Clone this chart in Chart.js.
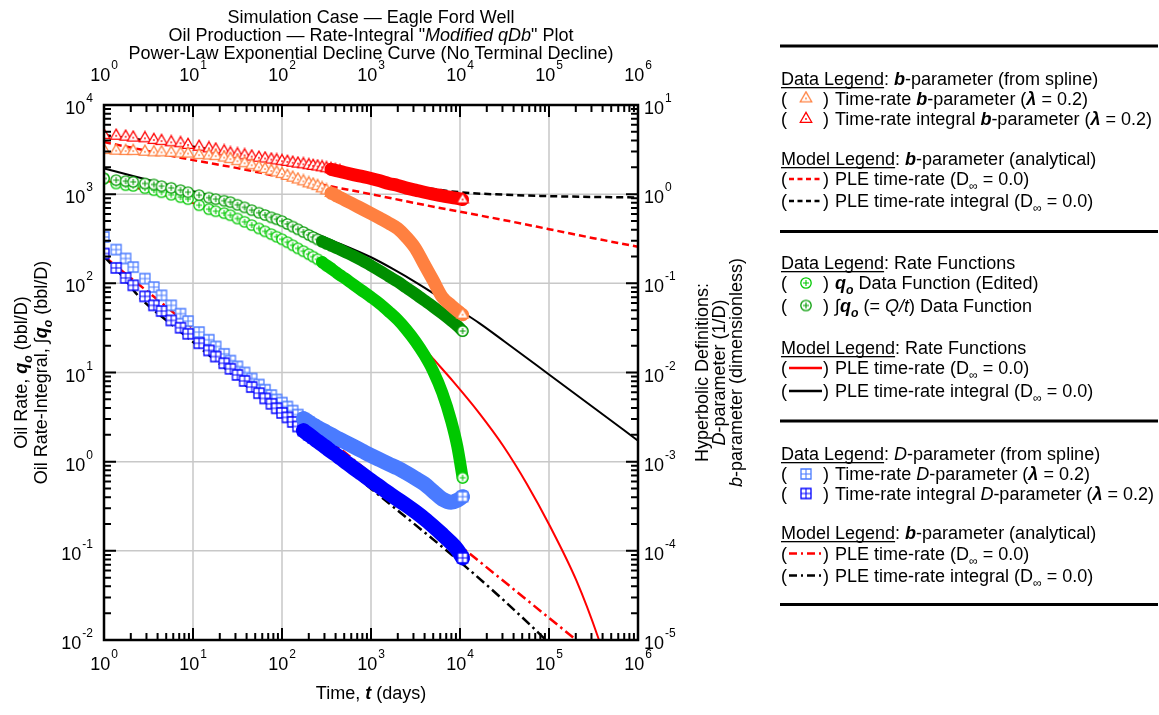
<!DOCTYPE html>
<html>
<head>
<meta charset="utf-8">
<script src="https://cdn.jsdelivr.net/npm/chart.js@4.4.0/dist/chart.umd.min.js"></script>
<style>
  html, body { margin: 0; padding: 0; background: #fff; }
  #wrap { width: 1159px; height: 715px; position: relative; }
</style>
</head>
<body>
<div id="wrap"><canvas id="c" width="1159" height="715"></canvas></div>
<script>
const FONT = '"Liberation Sans", Arial, Helvetica, sans-serif';

// ---- data: sample times (days) shared by the spline-derived series ----
const tDays = [1, 1.37, 1.75, 2.13, 2.88, 3.63, 4.43, 5.69, 7.24, 8.79,
  11.7, 15.1, 18.0, 22.4, 26.3, 31.6, 38.0, 45.7, 55.0, 64.6, 75.9, 87.1,
  100, 115, 132, 151, 174, 200, 224, 251, 282, 316, 355, 398, 447, 501, 631, 794,
  1000, 1260, 1580, 2000, 2510, 3160, 3980, 5010, 6310, 7940, 9330, 10700];

// time-rate integral b-parameter (red triangles)
const bIntData = [4.60, 4.52, 4.41, 4.30, 4.23, 4.05, 3.94, 3.81, 3.72, 3.56,
  3.40, 3.26, 3.16, 3.01, 2.86, 2.79, 2.72, 2.64, 2.56, 2.51, 2.44, 2.39,
  2.34, 2.30, 2.25, 2.20, 2.16, 2.11, 2.07, 2.04, 2.00, 1.95, 1.90, 1.85, 1.80, 1.75, 1.66, 1.58,
  1.50, 1.41, 1.32, 1.25, 1.17, 1.11, 1.05, 1.00, 0.959, 0.920, 0.895, 0.871];

// time-rate b-parameter (orange triangles)
const bRateData = [3.12, 3.07, 3.04, 3.04, 2.99, 2.94, 2.94, 2.91, 2.86, 2.85,
  2.74, 2.71, 2.67, 2.57, 2.47, 2.34, 2.22, 2.11, 2.00, 1.91, 1.82, 1.75,
  1.68, 1.60, 1.53, 1.46, 1.39, 1.32, 1.28, 1.23, 1.16, 1.10, 1.03, 0.975, 0.918, 0.865, 0.771, 0.684,
  0.607, 0.536, 0.473, 0.410, 0.328, 0.246, 0.162, 0.107, 0.0702, 0.0566, 0.0494, 0.0445];

// rate-integral Q/t (dark green circles), bbl/D
const qIntData = [1500, 1435, 1400, 1374, 1318, 1285, 1230, 1178, 1109, 1052,
  975, 914, 879, 845, 813, 760, 711, 662, 619, 583, 550, 524,
  498, 463, 433, 404, 376, 350, 330, 311, 295, 280, 266, 252, 240, 227, 203, 180,
  158, 138, 120, 104, 88.8, 75.9, 64.4, 54.5, 45.8, 38.2, 33.4, 29.2];

// oil rate q_o (bright green circles), bbl/D
const qData = [1500, 1318, 1262, 1239, 1167, 1109, 1052, 986, 925, 879,
  752, 678, 644, 612, 581, 533, 490, 450, 413, 383, 356, 333,
  312, 289, 267, 247, 229, 212, 199, 186, 173, 159, 147, 135, 124, 115, 97.2, 82.6,
  70.1, 58.9, 48.4, 38.9, 30.1, 22.3, 15.7, 10.3, 5.96, 2.89, 1.48, 0.661];

// time-rate D-parameter (light blue squares), 1/D
const dRateData = [0.331, 0.239, 0.190, 0.152, 0.113, 0.0908, 0.0733, 0.0566, 0.0457, 0.0377,
  0.0284, 0.0233, 0.0196, 0.0162, 0.0136, 0.0117, 0.0100, 0.00857, 0.00733, 0.00641, 0.00558, 0.00498,
  0.00460, 0.00415, 0.00374, 0.00337, 0.00304, 0.00279, 0.00258, 0.00242, 0.00228, 0.00214, 0.00201, 0.00189, 0.00178, 0.00168, 0.00149, 0.00132,
  0.00117, 0.00105, 0.000942, 0.000845, 0.000745, 0.000650, 0.000564, 0.000463, 0.000381, 0.000351, 0.000369, 0.000405];

// time-rate integral D-parameter (blue squares), 1/D
const dIntData = [0.216, 0.149, 0.115, 0.0951, 0.0715, 0.0566, 0.0489, 0.0384, 0.0318, 0.0272,
  0.0213, 0.0177, 0.0151, 0.0127, 0.0110, 0.00940, 0.00805, 0.00687, 0.00587, 0.00512, 0.00446, 0.00397,
  0.00352, 0.00314, 0.00279, 0.00248, 0.00223, 0.00201, 0.00185, 0.00169, 0.00156, 0.00143, 0.00131, 0.00121, 0.00111, 0.00102, 0.000857, 0.000726,
  0.000612, 0.000520, 0.000443, 0.000376, 0.000324, 0.000274, 0.000229, 0.000188, 0.000153, 0.000123, 0.000103, 0.0000834];

// ---- PLE model curves ----
const bModelRateT = [1, 3.16, 10, 31.6, 100, 316, 1000, 3160, 10000, 31600, 1e5, 3.16e5, 1e6];
const bModelRate  = [3.84, 3.04, 2.41, 1.96, 1.55, 1.25, 1.00, 0.792, 0.635, 0.511, 0.405, 0.321, 0.257];
const bModelIntT  = [1, 10, 100, 1000, 3160, 10000, 31600, 1e5, 3.16e5, 1e6];
const bModelInt   = [4.60, 3.40, 2.34, 1.57, 1.23, 1.05, 0.987, 0.951, 0.931, 0.918];
const qModelT     = [1, 2.45, 10, 31.6, 100, 316, 1000, 2000, 3160, 5010, 8320, 16600, 30900, 56200, 102000, 204000, 355000, 398000];
const qModel      = [1435, 1159, 793, 524, 312, 163, 71.4, 40.5, 24.1, 14.2, 8.0, 3.46, 1.48, 0.566, 0.191, 0.0460, 0.0108, 0.00752];
const qIntModelT  = [1, 2.17, 10, 31.6, 100, 316, 1000, 1740, 3470, 8320, 16600, 31600, 1e5, 3.16e5, 1e6];
const qIntModel   = [1945, 1592, 1081, 793, 524, 321, 196, 146, 97.5, 55.8, 35.6, 22.3, 9.51, 4.05, 1.72];
const dModelRateT = [1, 10, 100, 1000, 1e4, 1e5, 3.16e5];
const dModelRate  = [0.201, 0.0312, 0.00472, 0.000733, 0.000114, 0.0000177, 0.00000697];
const dModelIntT  = [1, 1.58, 2.51, 6.31, 31.6, 100, 1000, 1e4, 31600, 1e5, 158000];
const dModelInt   = [0.201, 0.123, 0.0697, 0.0321, 0.00857, 0.00329, 0.000498, 0.0000752, 0.0000274, 0.00000925, 0.00000581];

// axis tick exponents
const xExponents = [0, 1, 2, 3, 4, 5, 6];
const yLeftExponents = [-2, -1, 0, 1, 2, 3, 4];
const yRightExponents = [-5, -4, -3, -2, -1, 0, 1];

const C = { bRate: '#ff8040', bInt: '#ff0000', q: '#00c800', qInt: '#008f00', dRate: '#4a7bff', dInt: '#0000ff' };

// ---- marker glyphs: open triangle with dot, circled plus, boxed cross ----
function makeMarker(kind, color) {
  const s = kind === 'tri' ? 16 : 14;
  const c = document.createElement('canvas');
  c.width = s; c.height = s;
  const g = c.getContext('2d');
  const m = s / 2;
  g.strokeStyle = color; g.fillStyle = '#fff'; g.lineWidth = 1.3;
  g.beginPath();
  if (kind === 'tri') {
    const R = 6.6;
    g.moveTo(m, m - R);
    g.lineTo(m + R * 0.866, m + R * 0.5);
    g.lineTo(m - R * 0.866, m + R * 0.5);
    g.closePath(); g.fill(); g.stroke();
    g.fillStyle = color; g.beginPath(); g.arc(m, m, 0.9, 0, Math.PI * 2); g.fill();
  } else if (kind === 'circ') {
    g.arc(m, m, 5.2, 0, Math.PI * 2); g.fill(); g.stroke();
    g.beginPath(); g.lineWidth = 1.1;
    g.moveTo(m - 3, m); g.lineTo(m + 3, m); g.moveTo(m, m - 3); g.lineTo(m, m + 3); g.stroke();
  } else {
    g.rect(m - 5, m - 5, 10, 10); g.fill(); g.stroke();
    g.beginPath(); g.lineWidth = 1.1;
    g.moveTo(m - 5, m); g.lineTo(m + 5, m); g.moveTo(m, m - 5); g.lineTo(m, m + 5); g.stroke();
  }
  return c;
}

const markers = {
  bRate: makeMarker('tri', C.bRate), bInt: makeMarker('tri', C.bInt),
  q: makeMarker('circ', C.q), qInt: makeMarker('circ', '#009a00'),
  dRate: makeMarker('sq', C.dRate), dInt: makeMarker('sq', C.dInt)
};

const pts = (ts, vs) => ts.map((t, i) => ({ x: t, y: vs[i] }));

// spline-derived series, listed bottom to top
const dataSeries = [
  { key: 'q',     vals: qData,     axis: 'y',  bandFrom: 30, width: 12 },
  { key: 'qInt',  vals: qIntData,  axis: 'y',  bandFrom: 30, width: 12 },
  { key: 'dRate', vals: dRateData, axis: 'y2', bandFrom: 26, width: 15 },
  { key: 'dInt',  vals: dIntData,  axis: 'y2', bandFrom: 26, width: 15 },
  { key: 'bInt',  vals: bIntData,  axis: 'y2', bandFrom: 32, width: 13 },
  { key: 'bRate', vals: bRateData, axis: 'y2', bandFrom: 32, width: 13 }
];

const datasets = [];
const modelLines = [
  { t: bModelRateT, v: bModelRate, color: C.bInt, dash: [7, 4], w: 2.5, axis: 'y2' },
  { t: bModelIntT,  v: bModelInt,  color: '#000', dash: [7, 4], w: 2.5, axis: 'y2' },
  { t: qModelT,     v: qModel,     color: C.bInt, dash: [],     w: 2,   axis: 'y' },
  { t: qIntModelT,  v: qIntModel,  color: '#000', dash: [],     w: 2,   axis: 'y' },
  { t: dModelRateT, v: dModelRate, color: C.bInt, dash: [10, 4, 2.5, 4], w: 2.5, axis: 'y2' },
  { t: dModelIntT,  v: dModelInt,  color: '#000', dash: [10, 4, 2.5, 4], w: 2.5, axis: 'y2' }
];
modelLines.forEach((m, i) => datasets.push({
  data: pts(m.t, m.v), yAxisID: m.axis, borderColor: m.color, borderWidth: m.w, borderDash: m.dash,
  pointRadius: 0, cubicInterpolationMode: 'monotone', fill: false, order: 200 - i
}));

dataSeries.forEach((s, i) => {
  const all = pts(tDays, s.vals);
  const n = all.length;
  const color = C[s.key];
  // discrete markers in the sparse early part
  datasets.push({
    data: all.slice(0, s.bandFrom + 3), yAxisID: s.axis, showLine: false,
    pointStyle: markers[s.key], pointRadius: 5, order: 150 - i
  });
  // closely spaced samples merge into a solid band
  datasets.push({
    data: all.slice(s.bandFrom), yAxisID: s.axis, borderColor: color, borderWidth: s.width,
    borderCapStyle: 'round', borderJoinStyle: 'round', cubicInterpolationMode: 'monotone',
    pointRadius: 0, fill: false, order: 100 - i
  });
  // final sample
  datasets.push({
    data: all.slice(n - 1), yAxisID: s.axis, showLine: false,
    pointStyle: markers[s.key], pointRadius: 5, order: 50 - i
  });
});

// ---- rich text helpers ----
function setFont(g, f, size) {
  g.font = (f.includes('i') ? 'italic ' : '') + (f.includes('b') ? 'bold ' : '') + size + 'px ' + FONT;
}
function partSize(f, size) { return f.includes('s') ? size * 0.68 : size; }
function richWidth(g, parts, size) {
  let w = 0;
  for (const [txt, f = ''] of parts) { setFont(g, f, partSize(f, size)); w += g.measureText(txt).width; }
  return w;
}
function drawRich(g, parts, x, y, size, align) {
  let cx = x;
  if (align === 'center') cx -= richWidth(g, parts, size) / 2;
  g.textAlign = 'left'; g.textBaseline = 'alphabetic';
  for (const [txt, f = ''] of parts) {
    setFont(g, f, partSize(f, size));
    const dy = f.includes('s') ? size * 0.28 : 0;
    g.fillText(txt, cx, y + dy);
    const w = g.measureText(txt).width;
    if (f.includes('u')) g.fillRect(cx, y + 2, w, 1.3);
    cx += w;
  }
  return cx;
}
function drawRichVertical(g, parts, x, y, size) {
  g.save(); g.translate(x, y); g.rotate(-Math.PI / 2);
  drawRich(g, parts, 0, 0, size, 'center');
  g.restore();
}
function powLabel(g, exp, x, y, align) {
  const e = String(exp);
  g.textAlign = 'left'; g.textBaseline = 'alphabetic';
  g.font = '18px ' + FONT; const wb = g.measureText('10').width;
  g.font = '12px ' + FONT; const we = g.measureText(e).width;
  const total = wb + we + 1;
  const x0 = align === 'center' ? x - total / 2 : align === 'right' ? x - total : x;
  g.font = '18px ' + FONT; g.fillText('10', x0, y);
  g.font = '12px ' + FONT; g.fillText(e, x0 + wb + 1, y - 12);
}

// ---- legend content ----
const D_INF = (pre) => [[pre + ' (D'], ['\u221e', 's'], [' = 0.0)']];
const legendRows = [
  { y: 85,    parts: [['Data Legend', 'u'], [': '], ['b', 'bi'], ['-parameter (from spline)']] },
  { y: 104.5, marker: 'bRate', parts: [['Time-rate '], ['b', 'bi'], ['-parameter ('], ['\u03bb', 'bi'], [' = 0.2)']] },
  { y: 125,   marker: 'bInt',  parts: [['Time-rate integral '], ['b', 'bi'], ['-parameter ('], ['\u03bb', 'bi'], [' = 0.2)']] },
  { y: 165,   parts: [['Model Legend', 'u'], [': '], ['b', 'bi'], ['-parameter (analytical)']] },
  { y: 185,   line: { color: C.bInt, dash: [5, 3.5] }, parts: D_INF('PLE time-rate') },
  { y: 207,   line: { color: '#000', dash: [5, 3.5] }, parts: D_INF('PLE time-rate integral') },

  { y: 269,   parts: [['Data Legend', 'u'], [': Rate Functions']] },
  { y: 289,   marker: 'q',    parts: [['q', 'bi'], ['o', 'bis'], [' Data Function (Edited)']] },
  { y: 311.5, marker: 'qInt', parts: [['\u222b'], ['q', 'bi'], ['o', 'bis'], [' (= '], ['Q/t', 'i'], [') Data Function']] },
  { y: 354,   parts: [['Model Legend', 'u'], [': Rate Functions']] },
  { y: 374,   line: { color: C.bInt, dash: [] }, parts: D_INF('PLE time-rate') },
  { y: 397,   line: { color: '#000', dash: [] }, parts: D_INF('PLE time-rate integral') },

  { y: 460,   parts: [['Data Legend', 'u'], [': '], ['D', 'i'], ['-parameter (from spline)']] },
  { y: 480,   marker: 'dRate', parts: [['Time-rate '], ['D', 'i'], ['-parameter ('], ['\u03bb', 'bi'], [' = 0.2)']] },
  { y: 499.5, marker: 'dInt',  parts: [['Time-rate integral '], ['D', 'i'], ['-parameter ('], ['\u03bb', 'bi'], [' = 0.2)']] },
  { y: 539,   parts: [['Model Legend', 'u'], [': '], ['b', 'bi'], ['-parameter (analytical)']] },
  { y: 559.5, line: { color: C.bInt, dash: [8, 4, 2, 4] }, parts: D_INF('PLE time-rate') },
  { y: 581.5, line: { color: '#000', dash: [8, 4, 2, 4] }, parts: D_INF('PLE time-rate integral') }
];
const legendRules = [46, 231.5, 421, 604.5];

// ---- frame, inward ticks, grid, labels, titles and legend ----
const decor = {
  id: 'decor',
  beforeDatasetsDraw(chart) {
    const { ctx: g, chartArea: a, scales: { x, y } } = chart;
    g.save();
    g.strokeStyle = '#c8c8c8'; g.lineWidth = 1.5;
    g.beginPath();
    xExponents.slice(1, -1).forEach(k => { const px = x.getPixelForValue(Math.pow(10, k)); g.moveTo(px, a.top); g.lineTo(px, a.bottom); });
    yLeftExponents.slice(1, -1).forEach(k => { const py = y.getPixelForValue(Math.pow(10, k)); g.moveTo(a.left, py); g.lineTo(a.right, py); });
    g.stroke();
    g.restore();
  },
  afterDatasetsDraw(chart) {
    const { ctx: g, chartArea: a, scales: { x, y } } = chart;
    g.save();
    g.strokeStyle = '#000'; g.lineWidth = 2;
    g.beginPath();
    for (let k = 0; k < 6; k++) for (let m = 1; m <= 9; m++) {
      const px = x.getPixelForValue(m * Math.pow(10, k)); const len = m === 1 ? 12 : 7;
      g.moveTo(px, a.bottom); g.lineTo(px, a.bottom - len);
      g.moveTo(px, a.top); g.lineTo(px, a.top + len);
    }
    for (let k = -2; k < 4; k++) for (let m = 1; m <= 9; m++) {
      const py = y.getPixelForValue(m * Math.pow(10, k)); const len = m === 1 ? 12 : 7;
      g.moveTo(a.left, py); g.lineTo(a.left + len, py);
      g.moveTo(a.right, py); g.lineTo(a.right - len, py);
    }
    g.stroke();
    g.lineWidth = 2.5;
    g.strokeRect(a.left, a.top, a.right - a.left, a.bottom - a.top);
    g.restore();
  },
  afterDraw(chart) {
    const { ctx: g, chartArea: a, scales: { x, y, y2 } } = chart;
    const cx = (a.left + a.right) / 2, cy = (a.top + a.bottom) / 2;
    g.save();
    g.fillStyle = '#000';

    // tick labels
    xExponents.forEach(k => {
      const px = x.getPixelForValue(Math.pow(10, k));
      powLabel(g, k, px, a.bottom + 30, 'center');
      powLabel(g, k, px, a.top - 24, 'center');
    });
    yLeftExponents.forEach(k => powLabel(g, k, a.left - 11, y.getPixelForValue(Math.pow(10, k)) + 9, 'right'));
    yRightExponents.forEach(k => powLabel(g, k, a.right + 6, y2.getPixelForValue(Math.pow(10, k)) + 9, 'left'));

    // titles
    drawRich(g, [['Simulation Case \u2014 Eagle Ford Well']], cx, 23, 18, 'center');
    drawRich(g, [['Oil Production \u2014 Rate-Integral "'], ['Modified qDb', 'i'], ['" Plot']], cx, 41, 18, 'center');
    drawRich(g, [['Power-Law Exponential Decline Curve (No Terminal Decline)']], cx, 59, 18, 'center');

    // axis titles
    drawRich(g, [['Time, '], ['t', 'bi'], [' (days)']], cx, 699, 18, 'center');
    drawRichVertical(g, [['Oil Rate, '], ['q', 'bi'], ['o', 'bis'], [' (bbl/D)']], 27, cy, 18);
    drawRichVertical(g, [['Oil Rate-Integral, '], ['\u222b'], ['q', 'bi'], ['o', 'bis'], [' (bbl/D)']], 47, cy, 18);
    drawRichVertical(g, [['Hyperbolic Definitions:']], 708, cy, 18);
    drawRichVertical(g, [['D', 'i'], ['-parameter (1/D)']], 725, cy, 18);
    drawRichVertical(g, [['b', 'i'], ['-parameter (dimensionless)']], 742, cy, 18);

    // legend
    legendRules.forEach(ry => g.fillRect(780, ry - 1.5, 378, 3));
    legendRows.forEach(r => {
      const mid = r.y - 6;
      if (r.marker || r.line) {
        drawRich(g, [['(']], 781, r.y, 18);
        if (r.marker) {
          const im = markers[r.marker];
          g.drawImage(im, 806 - im.width / 2, mid - im.height / 2);
        } else {
          g.save(); g.strokeStyle = r.line.color; g.lineWidth = 2.5; g.setLineDash(r.line.dash);
          g.beginPath(); g.moveTo(789, mid); g.lineTo(822, mid); g.stroke(); g.restore();
        }
        drawRich(g, [[') ']], 823, r.y, 18);
        drawRich(g, r.parts, 835, r.y, 18);
      } else {
        drawRich(g, r.parts, 781, r.y, 18);
      }
    });
    g.restore();
  }
};

const hiddenAxis = (extra) => Object.assign({
  type: 'logarithmic', display: false,
  grid: { display: false }, ticks: { display: false }, border: { display: false }
}, extra);

new Chart(document.getElementById('c'), {
  type: 'line',
  data: { datasets },
  options: {
    responsive: false, animation: false, devicePixelRatio: 1,
    layout: { padding: { left: 104, right: 521, top: 105, bottom: 75 } },
    plugins: { legend: { display: false }, tooltip: { enabled: false }, title: { display: false } },
    elements: { line: { tension: 0 } },
    scales: {
      x:  hiddenAxis({ min: 1, max: 1e6 }),
      y:  hiddenAxis({ position: 'left', min: 0.01, max: 1e4 }),
      y2: hiddenAxis({ position: 'right', min: 1e-5, max: 10 })
    }
  },
  plugins: [decor]
});
</script>
</body>
</html>
